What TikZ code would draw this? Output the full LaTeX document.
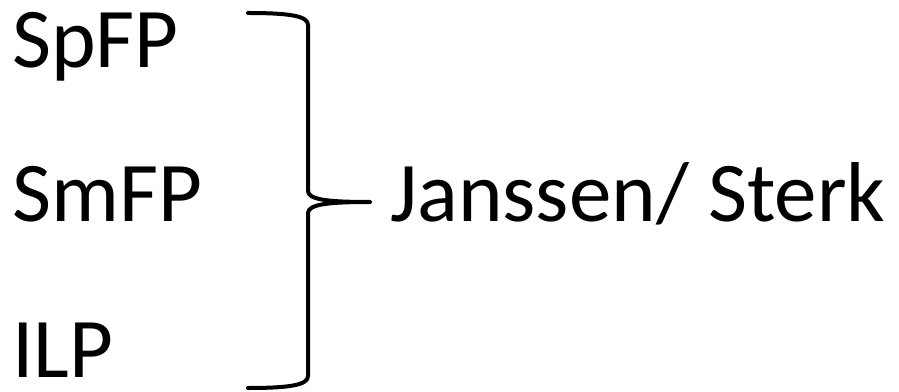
\documentclass[tikz,border=0pt]{standalone}
\usepackage{fontspec}
\setmainfont{Carlito}
\begin{document}
\begin{tikzpicture}[x=1pt,y=1pt,
        lbl/.style={anchor=base west,inner sep=0pt,font=\fontsize{85}{90}\selectfont}]
            \useasboundingbox (0,0) rectangle (899,391);
            \node[lbl] (spfp) at (12,323) {SpFP};
            \node[lbl] (smfp) at (12,169) {SmFP};
            \node[lbl] (ilp) at (12,14) {ILP};
            \node[lbl] (js) at (390,169) {Janssen/ Sterk};
            % brace
            \coordinate (top) at (248,378);
            \coordinate (tip) at (370,189);
            \coordinate (bot) at (248,3);
            \draw[line width=4pt,line cap=round,line join=round]
                (top) .. controls (290,378) and (308,375) .. (308,366)
                -- (308,200) .. controls (308,191) and (330,189) .. (tip)
                .. controls (330,189) and (308,187) .. (308,178)
                -- (308,15) .. controls (308,6) and (290,3) .. (bot);
        \end{tikzpicture}
\end{document}
